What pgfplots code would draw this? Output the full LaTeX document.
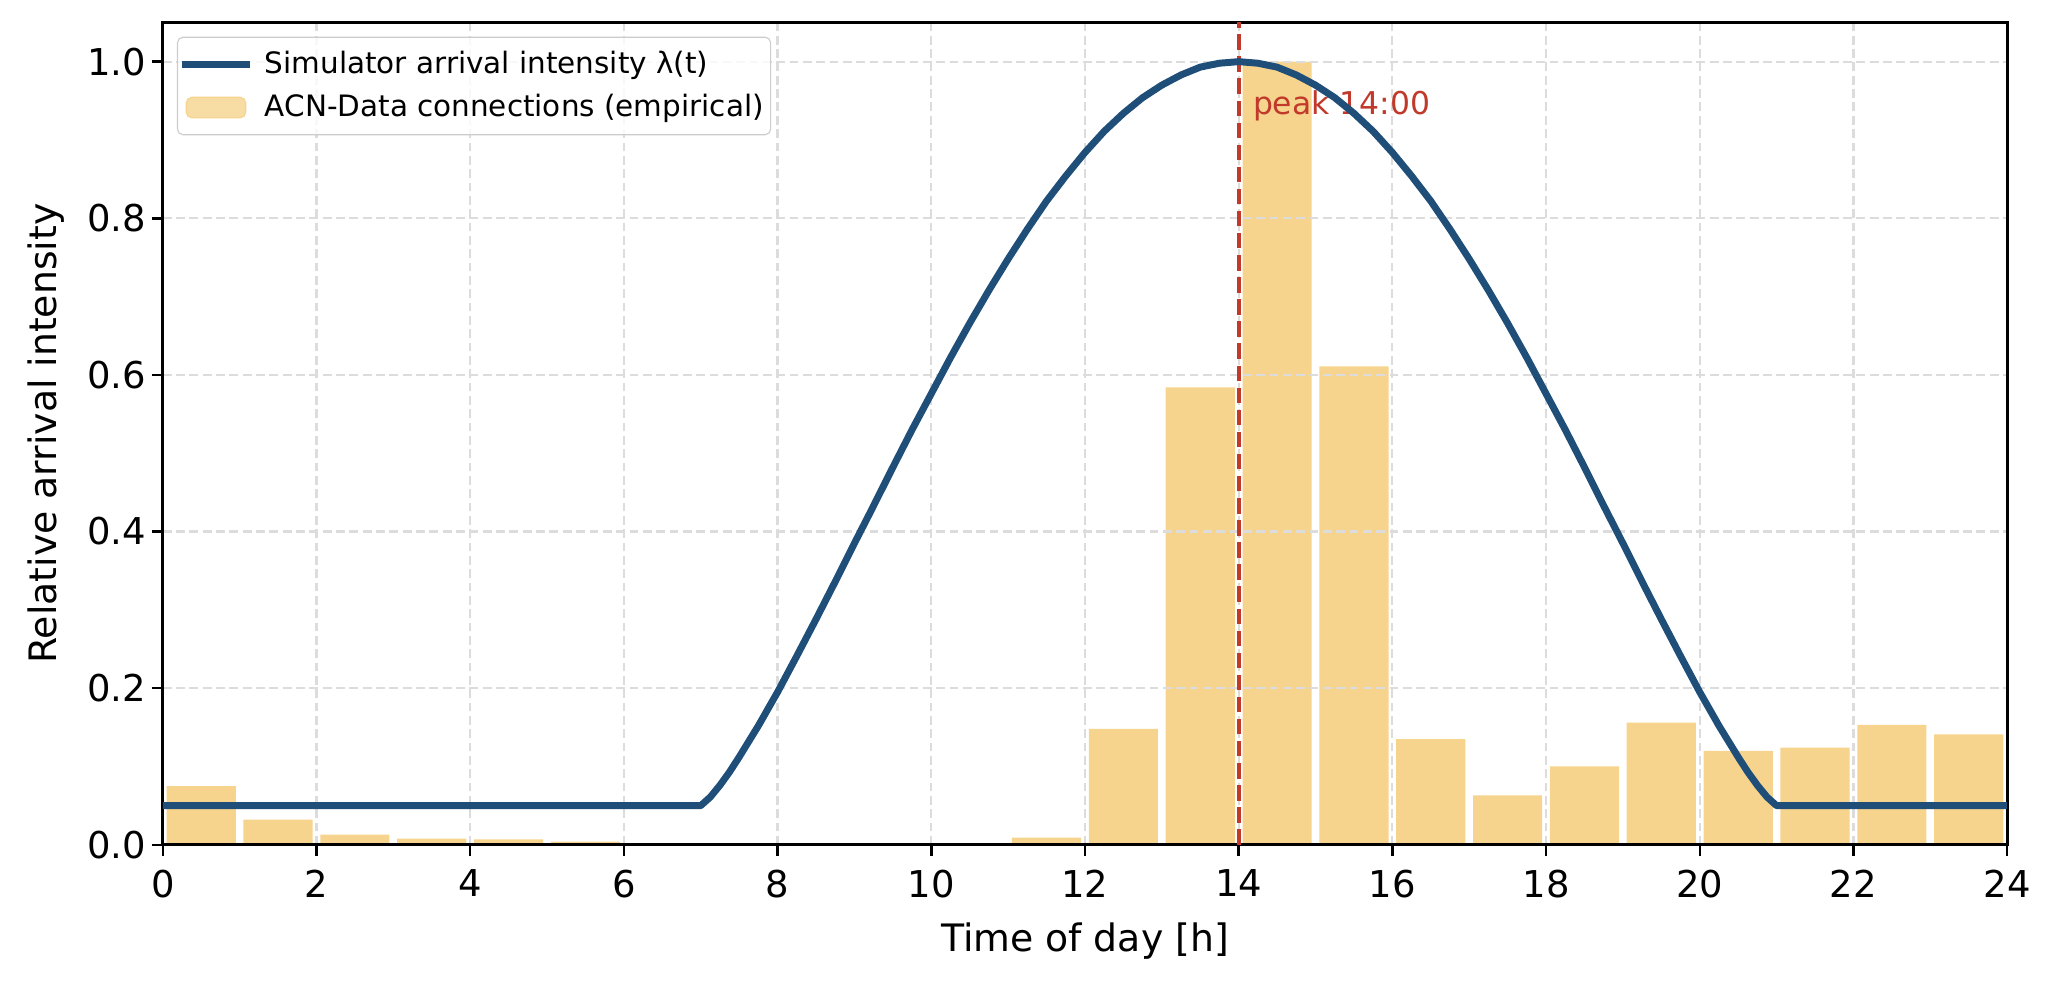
\documentclass[border=0pt]{standalone}
\usepackage{fontspec}
\setmainfont{DejaVu Sans}
\usepackage{pgfplots}
\pgfplotsset{compat=1.18}
\definecolor{curvec}{HTML}{1F4E79}
\definecolor{barc}{HTML}{F6D48E}
\definecolor{peakred}{HTML}{C0392B}
\definecolor{gridc}{HTML}{DCDCDC}
\begin{document}
\begin{tikzpicture}
\begin{axis}[
  set layers,
  scale only axis, width=663.9pt, height=296pt,
  xmin=0, xmax=24, ymin=0, ymax=1.05,
  xtick={0,2,...,24}, ytick={0,0.2,0.4,0.6,0.8,1.0},
  /pgf/number format/assume math mode=true,
  tick label style={font=\fontsize{13.3}{16}\selectfont},
  xticklabel style={yshift=-1.5pt},
  yticklabel style={xshift=1.5pt, /pgf/number format/fixed, /pgf/number format/fixed zerofill, /pgf/number format/precision=1},
  label style={font=\fontsize{13.6}{16}\selectfont},
  xlabel={Time of day [h]}, ylabel={Relative arrival intensity},
  xlabel style={yshift=-2pt},
  ylabel style={yshift=1.5pt},
  tick align=outside, major tick length=4pt,
  tick style={black, line width=0.9pt},
  xtick pos=bottom, ytick pos=left,
  axis line style={line width=1pt},
  grid=major, grid style={gridc, dash pattern=on 3.2pt off 1.6pt, line width=0.8pt},
  legend cell align=left,
  legend style={at={(0,1)}, anchor=north west, xshift=5.1pt, yshift=-5.1pt,
    draw=black!20, rounded corners=2pt, fill=white, fill opacity=0.8, text opacity=1,
    font=\fontsize{10.6}{12.6}\selectfont, inner xsep=0.5pt, inner ysep=3pt,
    row sep=2pt, nodes={inner xsep=2pt, inner ysep=2pt}},
]
\addlegendimage{legend image code/.code={\draw[curvec, line width=2.5pt] (0pt,0pt) -- (24.5pt,0pt); \path (27.5pt,0pt);}}
\addlegendentry{Simulator arrival intensity λ(t)}
\addlegendimage{legend image code/.code={\fill[barc] (1.4pt,-3.7pt) rectangle (22.8pt,3.7pt); \path (27.5pt,0pt);}}
\addlegendentry{ACN-Data connections (empirical)\hspace{2.3pt}}

\addplot[ybar, bar width=0.9, bar shift=0pt, fill=barc, draw=none, forget plot, on layer=axis background] coordinates {
(0.5,0.075) (1.5,0.032) (2.5,0.013) (3.5,0.008) (4.5,0.007) (5.5,0.004)
(6.5,0.002) (7.5,0.001) (8.5,0) (9.5,0) (10.5,0) (11.5,0.009)
(12.5,0.148) (13.5,0.584) (14.5,1.000) (15.5,0.611) (16.5,0.135) (17.5,0.063)
(18.5,0.100) (19.5,0.156) (20.5,0.120) (21.5,0.124) (22.5,0.153) (23.5,0.141)
};
\addplot[peakred, line width=1.5pt, dash pattern=on 5.55pt off 2.4pt, forget plot] coordinates {(14,0) (14,1.05)};
\node[anchor=base west, text=peakred, font=\fontsize{11.3}{13}\selectfont, inner sep=0pt] at (axis cs:14.18,0.932) {peak 14:00};
\addplot[curvec, line width=2.5pt, line join=round, forget plot] coordinates {
(0,0.050) (7.00,0.050) (7.125,0.061) (7.25,0.076) (7.375,0.093) (7.50,0.112) (7.75,0.152) (8.00,0.195) (8.25,0.241) (8.50,0.288) (8.75,0.336)
(9.00,0.385) (9.25,0.433) (9.50,0.482) (9.75,0.530) (10.00,0.576) (10.25,0.622) (10.50,0.666) (10.75,0.708)
(11.00,0.748) (11.25,0.786) (11.50,0.822) (11.75,0.854) (12.00,0.884) (12.25,0.911) (12.50,0.934) (12.75,0.954)
(13.00,0.970) (13.25,0.983) (13.50,0.993) (13.75,0.998) (14.00,1.000)
(14.25,0.998) (14.50,0.993) (14.75,0.983) (15.00,0.970) (15.25,0.954) (15.50,0.934) (15.75,0.911) (16.00,0.884)
(16.25,0.854) (16.50,0.822) (16.75,0.786) (17.00,0.748) (17.25,0.708) (17.50,0.666) (17.75,0.622) (18.00,0.576)
(18.25,0.530) (18.50,0.482) (18.75,0.433) (19.00,0.385) (19.25,0.336) (19.50,0.288) (19.75,0.241) (20.00,0.195)
(20.25,0.152) (20.50,0.112) (20.625,0.093) (20.75,0.076) (20.875,0.061) (21.00,0.050) (24,0.050)
};
\coordinate (SW) at (rel axis cs:0,0);
\coordinate (NE) at (rel axis cs:1,1);
\end{axis}
\pgfresetboundingbox
\path ([xshift=-58.6pt, yshift=-48.7pt]SW) rectangle ([xshift=14pt, yshift=8.1pt]NE);
\end{tikzpicture}
\end{document}
